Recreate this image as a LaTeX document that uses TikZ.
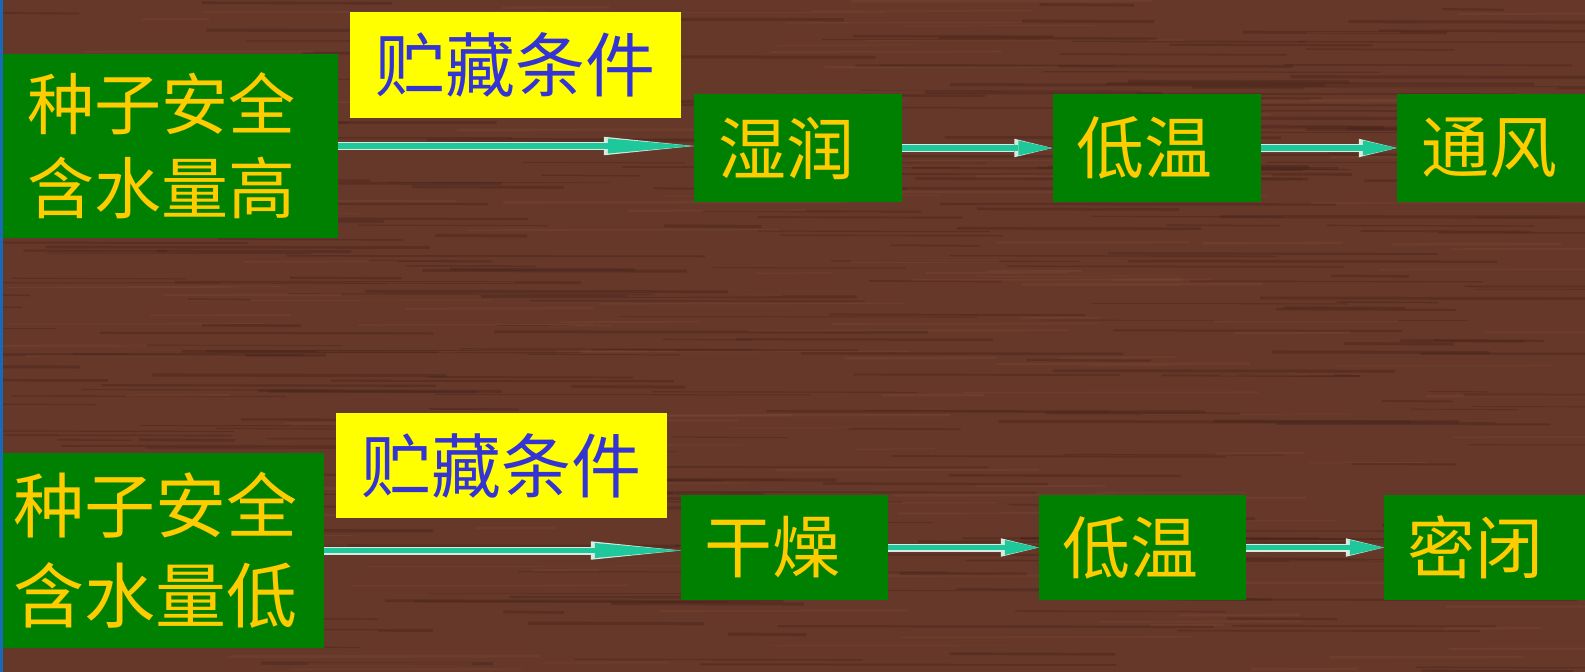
\documentclass[tikz,border=0pt]{standalone}
\usepackage{fontspec}
\newfontfamily\cjk{Noto Sans CJK SC}
\usetikzlibrary{arrows.meta}
\definecolor{wood}{RGB}{102,56,41}
\definecolor{wooddark}{RGB}{66,33,24}
\definecolor{woodlight}{RGB}{130,80,58}
\definecolor{boxgreen}{RGB}{0,128,0}
\definecolor{gold}{RGB}{255,204,0}
\definecolor{signyellow}{RGB}{255,255,0}
\definecolor{signblue}{RGB}{52,52,212}
\definecolor{arrteal}{RGB}{30,200,155}
\definecolor{arrrim}{RGB}{215,235,225}
\definecolor{edgeblue}{RGB}{25,105,185}
\tikzset{
  gbox/.style={fill=boxgreen, text=gold, inner sep=0pt, align=center},
  ybox/.style={fill=signyellow, text=signblue, inner sep=0pt, align=center},
  longarr/.style={draw=arrteal, line width=5.5pt,
    -{Triangle[length=86pt,width=15pt,line width=0pt]},
    preaction={draw=arrrim, line width=8pt,
      -{Triangle[length=90pt,width=18.5pt,line width=0pt]}}},
  shortarr/.style={draw=arrteal, line width=5.5pt,
    -{Triangle[length=34pt,width=15pt,line width=0pt]},
    preaction={draw=arrrim, line width=8pt,
      -{Triangle[length=38pt,width=18.5pt,line width=0pt]}}}
}
\newcommand{\lowr}[1]{\raisebox{-5pt}{#1}}
\begin{document}
\begin{tikzpicture}[x=1pt,y=-1pt]
\useasboundingbox (0,0) rectangle (1585,672);
\clip (0,0) rectangle (1585,672);
% wood background
\fill[wood] (0,0) rectangle (1585,672);
\pgfmathsetseed{7}
\foreach \i in {1,...,300}{
  \pgfmathsetmacro{\yy}{rnd*672}
  \pgfmathsetmacro{\xx}{rnd*1585-100}
  \pgfmathsetmacro{\ll}{60+rnd*380}
  \pgfmathsetmacro{\ww}{0.8+rnd*2.5}
  \draw[wooddark, opacity=0.35, line width=\ww pt] (\xx,\yy) -- ++(\ll,0.6);
}
\foreach \i in {1,...,160}{
  \pgfmathsetmacro{\yy}{rnd*672}
  \pgfmathsetmacro{\xx}{rnd*1585-100}
  \pgfmathsetmacro{\ll}{60+rnd*300}
  \pgfmathsetmacro{\ww}{0.8+rnd*2}
  \draw[woodlight, opacity=0.25, line width=\ww pt] (\xx,\yy) -- ++(\ll,-0.5);
}
\fill[edgeblue] (0,0) rectangle (2.5,672);

% top row
\node[gbox, minimum width=335pt, minimum height=184pt, font=\cjk\fontsize{67}{84}\selectfont]
  (hi) at (170.5,146) {\lowr{种子安全\hspace*{18pt}}\\\lowr{含水量高\hspace*{18pt}}};
\node[ybox, minimum width=331pt, minimum height=106pt, font=\cjk\fontsize{70}{84}\selectfont]
  (c1) at (515.5,65) {贮藏条件};
\node[gbox, minimum width=208pt, minimum height=108pt, font=\cjk\fontsize{68}{84}\selectfont]
  (t1) at (798,148) {\lowr{湿润\hspace*{24pt}}};
\node[gbox, minimum width=208pt, minimum height=108pt, font=\cjk\fontsize{68}{84}\selectfont]
  (t2) at (1156.5,148) {\lowr{低温\hspace*{24pt}}};
\node[gbox, minimum width=208pt, minimum height=108pt, font=\cjk\fontsize{68}{84}\selectfont]
  (t3) at (1501,148) {\lowr{通风\hspace*{24pt}}};

% bottom row
\node[gbox, minimum width=321pt, minimum height=195pt, font=\cjk\fontsize{71}{90}\selectfont]
  (lo) at (163.5,550.5) {种子安全\hspace*{16pt}\\含水量低\hspace*{16pt}};
\node[ybox, minimum width=331pt, minimum height=105pt, font=\cjk\fontsize{70}{84}\selectfont]
  (c2) at (501.5,465.5) {贮藏条件};
\node[gbox, minimum width=207pt, minimum height=105pt, font=\cjk\fontsize{68}{84}\selectfont]
  (b1) at (784.5,547.5) {\lowr{干燥\hspace*{24pt}}};
\node[gbox, minimum width=207pt, minimum height=105pt, font=\cjk\fontsize{68}{84}\selectfont]
  (b2) at (1142.5,547.5) {\lowr{低温\hspace*{24pt}}};
\node[gbox, minimum width=207pt, minimum height=105pt, font=\cjk\fontsize{68}{84}\selectfont]
  (b3) at (1487.5,547.5) {\lowr{密闭\hspace*{24pt}}};

% connectors
\draw[longarr] (hi.east) -- (hi.east -| t1.west);
\draw[shortarr] (t1.east) -- (t1.east -| t2.west);
\draw[shortarr] (t2.east) -- (t2.east -| t3.west);
\draw[longarr] (lo.east) -- (lo.east -| b1.west);
\draw[shortarr] (b1.east) -- (b1.east -| b2.west);
\draw[shortarr] (b2.east) -- (b2.east -| b3.west);
\end{tikzpicture}
\end{document}
